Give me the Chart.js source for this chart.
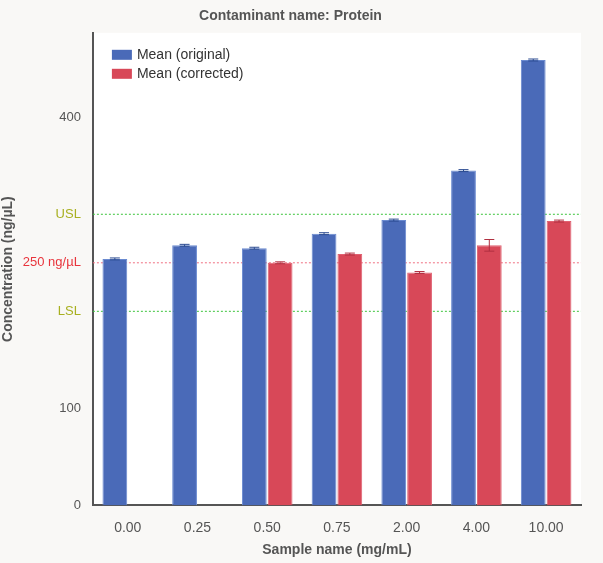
<!DOCTYPE html>
<html><head><script src="https://cdn.jsdelivr.net/npm/chart.js@4"></script>
<style>body{margin:0;background:#f9f8f6}#w{width:603px;height:563px}</style></head>
<body><div id="w"><canvas id="c"></canvas></div>
<script>
const categories=['0.00','0.25','0.50','0.75','2.00','4.00','10.00'];
const original=[254,268,265,280,294,345,459];
const corrected=[null,null,250,259,240,268,293];
const correctedErr=[null,null,1,1,1,6,1];
const originalErr=[1,1,1,1,1,1,1];
const tickVals=[0,100,200,250,300,400];
const tickLabels={0:'0',100:'100',200:'LSL',250:'250 ng/µL',300:'USL',400:'400'};
const tickColors={0:'#555',100:'#555',200:'#a8b020',250:'#e8343c',300:'#a8b020',400:'#555'};
const refLines=[{v:300,c:'#3cc43c'},{v:250,c:'#f07080'},{v:200,c:'#3cc43c'}];
const F='Liberation Sans';
const plug={id:'p',
beforeDraw(ch){const a=ch.chartArea,x=ch.ctx;x.save();x.fillStyle='#fff';x.fillRect(a.left,a.top,a.right-a.left,a.bottom-a.top);x.restore();},
beforeDatasetsDraw(ch){const a=ch.chartArea,x=ch.ctx,y=ch.scales.y;x.save();x.setLineDash([2,2]);x.lineWidth=1;
refLines.forEach(r=>{const py=y.getPixelForValue(r.v);x.strokeStyle=r.c;x.beginPath();x.moveTo(a.left,py);x.lineTo(a.right,py);x.stroke();});x.restore();},
afterDatasetsDraw(ch){const x=ch.ctx,y=ch.scales.y,a=ch.chartArea;[originalErr,correctedErr].forEach((e,di)=>{const m=ch.getDatasetMeta(di);
m.data.forEach((b,i)=>{const v=ch.data.datasets[di].data[i];if(v==null)return;const t=y.getPixelForValue(v+e[i]),bo=y.getPixelForValue(v-e[i]);
x.save();x.strokeStyle=di?'#b03040':'#2a4a90';x.lineWidth=1;x.beginPath();x.moveTo(b.x,t);x.lineTo(b.x,bo);x.moveTo(b.x-5,t);x.lineTo(b.x+5,t);x.moveTo(b.x-5,bo);x.lineTo(b.x+5,bo);x.stroke();x.restore();});});
x.save();x.font='14px '+F;x.textBaseline='middle';
ch.data.datasets.forEach((d,i)=>{const yy=a.top+22+i*19;x.fillStyle=d.backgroundColor;x.fillRect(a.left+19,yy-5,20,10);x.fillStyle='#333';x.fillText(d.label,a.left+44,yy);});x.restore();}};
new Chart(document.getElementById('c'),{type:'bar',
data:{labels:categories,datasets:[
{label:'Mean (original)',data:original,backgroundColor:'#4a6ab8',borderColor:'#6a8ad0',borderWidth:1},
{label:'Mean (corrected)',data:corrected,backgroundColor:'#d84858',borderColor:'#e06070',borderWidth:1}]},
options:{responsive:true,maintainAspectRatio:false,animation:false,
layout:{padding:{right:22,top:0,bottom:4,left:0}},
datasets:{bar:{categoryPercentage:0.74,barPercentage:0.96}},
plugins:{title:{display:true,text:'Contaminant name: Protein',color:'#555',font:{family:F,size:14,weight:'bold'},padding:{top:8,bottom:8}},
legend:{display:false},tooltip:{enabled:false}},
scales:{x:{grid:{display:false},border:{color:'#555',width:2},ticks:{color:'#555',font:{family:F,size:14},padding:6},
title:{display:true,text:'Sample name (mg/mL)',color:'#555',font:{family:F,size:14,weight:'bold'},padding:0}},
y:{min:0,max:487,afterBuildTicks(s){s.ticks=tickVals.map(v=>({value:v}));},
grid:{display:false,drawTicks:true,tickLength:6,tickColor:'#555'},border:{color:'#555',width:2},
ticks:{callback:v=>tickLabels[v],color:c=>tickColors[c.tick.value],font:{family:F,size:13},padding:6},
title:{display:true,text:'Concentration (ng/µL)',color:'#555',font:{family:F,size:14,weight:'bold'},padding:0}}}},
plugins:[plug]});
</script></body></html>
